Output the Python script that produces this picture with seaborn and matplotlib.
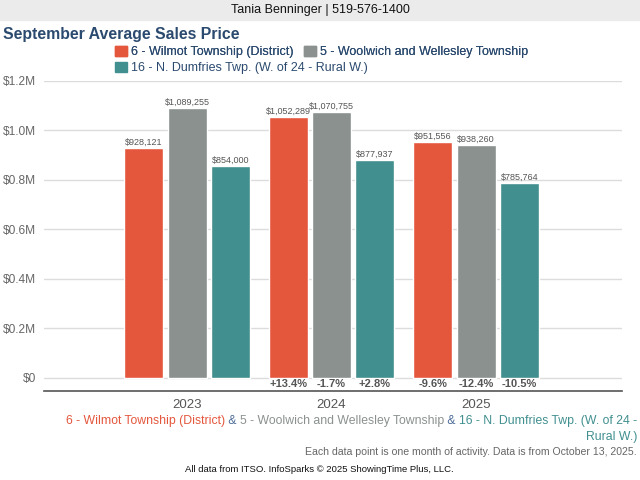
import seaborn as sns
import pandas as pd
import matplotlib.pyplot as plt
from matplotlib.patches import Rectangle, Patch
from matplotlib.ticker import FuncFormatter

years = ["2023", "2024", "2025"]
areas = [
    "6 - Wilmot Township (District)",
    "5 - Woolwich and Wellesley Township",
    "16 - N. Dumfries Twp. (W. of 24 - Rural W.)",
]
wilmot = [928121, 1052289, 951556]
woolwich = [1089255, 1070755, 938260]
dumfries = [854000, 877937, 785764]
colors = ["#e4573d", "#8a918e", "#418f8f"]

rows = []
for area, vals in zip(areas, [wilmot, woolwich, dumfries]):
    for yr, v in zip(years, vals):
        rows.append({"year": yr, "area": area, "price": v})
df = pd.DataFrame(rows)

sns.set_style("white")
plt.rcParams["font.family"] = ["Liberation Sans", "DejaVu Sans"]

fig = plt.figure(figsize=(6.4, 4.8), dpi=100)
ax = fig.add_axes([44 / 640, 1 - 391 / 480, 578 / 640, 310.5 / 480])

sns.barplot(
    data=df, x="year", y="price", hue="area", palette=colors,
    width=0.9, gap=0.1, legend=False, ax=ax, saturation=1,
)

ax.set_xlim(-0.99, 3.01)
ax.set_ylim(-0.0545e6, 1.2e6)
ax.set_yticks([0, 0.2e6, 0.4e6, 0.6e6, 0.8e6, 1.0e6, 1.2e6])
ax.yaxis.set_major_formatter(FuncFormatter(lambda v, p: "$0" if v == 0 else f"${v / 1e6:.1f}M"))
ax.grid(axis="y", color="#dcdcdc", lw=1)
ax.set_axisbelow(True)
ax.tick_params(axis="y", length=0, labelsize=8.6, labelcolor="#666666", pad=6)
ax.tick_params(axis="x", length=0, labelsize=9.5, labelcolor="#555555", pad=6)
ax.set_xlabel("")
ax.set_ylabel("")
for s in ["top", "left", "right"]:
    ax.spines[s].set_visible(False)
ax.spines["bottom"].set_color("#555555")
ax.spines["bottom"].set_linewidth(1.2)

# value labels and year-over-year change
for cont, vals in zip(ax.containers, [wilmot, woolwich, dumfries]):
    ax.bar_label(cont, labels=[f"${v:,.0f}" for v in vals], padding=1,
                 fontsize=6.5, color="#555555")
    for i in range(1, len(vals)):
        pct = (vals[i] / vals[i - 1] - 1) * 100
        bar = cont.patches[i]
        ax.text(bar.get_x() + bar.get_width() / 2, -0.027e6, f"{pct:+.1f}%",
                ha="center", va="center", fontsize=8, fontweight="bold", color="#555555")

# header band
fig.patches.append(Rectangle((0, 1 - 20 / 480), 1, 20 / 480, transform=fig.transFigure,
                             color="#ebebeb", zorder=0))
fig.text(0.5, 1 - 10.5 / 480, "Tania Benninger | 519-576-1400", ha="center", va="center",
         fontsize=9, color="#111111")
fig.text(3 / 640, 1 - 34.5 / 480, "September Average Sales Price", ha="left", va="center",
         fontsize=11.4, fontweight="bold", color="#2b4a6f")

# legend
legkw = dict(frameon=False, fontsize=9, handlelength=0.95, handleheight=0.95,
             handletextpad=0.35, borderpad=0, borderaxespad=0, labelcolor="#2b4a6f")
leg1 = fig.legend(handles=[Patch(color=colors[0]), Patch(color=colors[1])], labels=areas[:2],
                  loc="center left", bbox_to_anchor=(115 / 640, 1 - 52 / 480), ncol=2,
                  columnspacing=0.8, **legkw)
fig.legend(handles=[Patch(color=colors[2])], labels=areas[2:],
           loc="center left", bbox_to_anchor=(115 / 640, 1 - 68 / 480), **legkw)
fig.add_artist(leg1)

# colored footer line
amp = "#4a6a96"
segs = [(areas[0], colors[0]), (" & ", amp), (areas[1], colors[1]), (" & ", amp),
        ("16 - N. Dumfries Twp. (W. of 24 -", colors[2])]
fsz = 8.8
renderer = fig.canvas.get_renderer()
widths = []
for txt, c in segs:
    t = fig.text(0, 0, txt, fontsize=fsz)
    widths.append(t.get_window_extent(renderer).width)
    t.remove()
x = 637 - sum(widths)
for (txt, c), w in zip(segs, widths):
    fig.text(x / 640, 1 - 421 / 480, txt, fontsize=fsz, color=c, ha="left", va="center")
    x += w
fig.text(637 / 640, 1 - 437 / 480, "Rural W.)", fontsize=fsz, color=colors[2], ha="right", va="center")

fig.text(637 / 640, 1 - 452 / 480,
         "Each data point is one month of activity. Data is from October 13, 2025.",
         fontsize=7.6, color="#666666", ha="right", va="center")
fig.text(319 / 640, 1 - 470 / 480,
         "All data from ITSO. InfoSparks \u00a9 2025 ShowingTime Plus, LLC.",
         fontsize=6.8, color="#111111", ha="center", va="center")

fig.savefig("out.png", dpi=100)
